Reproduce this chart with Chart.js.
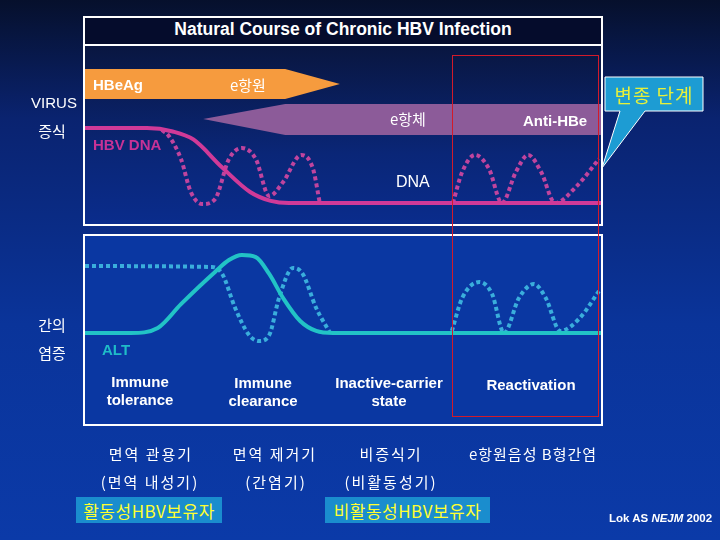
<!DOCTYPE html>
<html>
<head>
<meta charset="utf-8">
<script src="https://cdn.jsdelivr.net/npm/chart.js@4.4.1/dist/chart.umd.min.js"></script>
<style>
  body { margin: 0; }
  #slide {
    position: relative; width: 720px; height: 540px; overflow: hidden;
    background: linear-gradient(180deg, #06102c 0%, #0a2370 22%, #0a349a 60%, #0b3aa8 100%);
    font-family: "Liberation Sans", "Noto Sans CJK KR", sans-serif; color: #fff;
  }
  .t { position: absolute; white-space: nowrap; line-height: 1; }
  .c { transform: translate(-50%, -50%); text-align: center; }
  .l { transform: translateY(-50%); }
  .b { font-weight: bold; }
  .kr { font-family: "Noto Sans CJK KR", sans-serif; }
  .row { font-size: 15px; letter-spacing: 2px; }
  .panel { position: absolute; border: 2px solid #fff; }
  .panel canvas { display: block; }
  .tag { position: absolute; height: 26px; background: #1a8dce; color: #ffff30;
         font: 17px "Noto Sans CJK KR", sans-serif; letter-spacing: 0.5px;
         display: flex; align-items: center; justify-content: center; }
</style>
</head>
<body>
<div id="slide">
  <div class="panel" style="left:83px;top:16px;width:516px;height:26px;background:#050c2c;"></div>
  <div class="t c b" style="left:343px;top:30px;font-size:17.5px;">Natural Course of Chronic HBV Infection</div>

  <div class="panel" style="left:83px;top:44px;width:516px;height:178px;background:linear-gradient(180deg,#091640 0%,#0a2677 60%,#0a2c8c 100%);">
    <canvas id="top" width="516" height="178"></canvas>
  </div>
  <div class="panel" style="left:83px;top:234px;width:516px;height:188px;background:#0a37a2;">
    <canvas id="bottom" width="516" height="188"></canvas>
  </div>

  <div style="position:absolute;left:452px;top:55px;width:145px;height:360px;border:1px solid #d21a2a;"></div>

  <svg style="position:absolute;left:0;top:0;" width="720" height="540">
    <polygon points="605,77 703,77 703,111 645,111 602,168 620,111 605,111" fill="#1d9cd3" stroke="#fff" stroke-width="1"/>
  </svg>
  <div class="t c kr" style="left:654px;top:94px;font-size:19px;letter-spacing:1px;color:#e6f03a;">변종 단계</div>

  <div class="t c" style="left:54px;top:102px;font-size:15px;">VIRUS</div>
  <div class="t c kr" style="left:52px;top:130px;font-size:15px;">증식</div>
  <div class="t c kr" style="left:52px;top:324px;font-size:15px;">간의</div>
  <div class="t c kr" style="left:52px;top:352px;font-size:15px;">염증</div>

  <div class="t l b" style="left:93px;top:84px;font-size:15px;">HBeAg</div>
  <div class="t l kr" style="left:230px;top:84px;font-size:15px;">e항원</div>
  <div class="t l kr" style="left:390px;top:118px;font-size:15px;">e항체</div>
  <div class="t l b" style="left:523px;top:120px;font-size:15px;">Anti-HBe</div>
  <div class="t l b" style="left:93px;top:144px;font-size:15px;color:#c83296;">HBV DNA</div>
  <div class="t l" style="left:396px;top:182px;font-size:16px;">DNA</div>
  <div class="t l b" style="left:102px;top:349px;font-size:15px;color:#1fbcc8;">ALT</div>

  <div class="t c b" style="left:140px;top:391px;font-size:15px;line-height:18px;">Immune<br>tolerance</div>
  <div class="t c b" style="left:263px;top:392px;font-size:15px;line-height:18px;">Immune<br>clearance</div>
  <div class="t c b" style="left:389px;top:392px;font-size:15px;line-height:18px;">Inactive-carrier<br>state</div>
  <div class="t c b" style="left:531px;top:384px;font-size:15px;">Reactivation</div>

  <div class="t c kr row" style="left:151px;top:453px;">면역 관용기</div>
  <div class="t c kr row" style="left:275px;top:453px;">면역 제거기</div>
  <div class="t c kr row" style="left:391px;top:453px;">비증식기</div>
  <div class="t c kr row" style="left:533px;top:453px;letter-spacing:1px;">e항원음성 B형간염</div>
  <div class="t c kr row" style="left:150px;top:481px;">(면역 내성기)</div>
  <div class="t c kr row" style="left:276px;top:481px;">(간염기)</div>
  <div class="t c kr row" style="left:391px;top:481px;">(비활동성기)</div>

  <div class="tag" style="left:76px;top:497px;width:146px;">활동성HBV보유자</div>
  <div class="tag" style="left:325px;top:497px;width:165px;">비활동성HBV보유자</div>

  <div class="t l b" style="left:609px;top:519px;font-size:11.5px;">Lok AS <i>NEJM</i> 2002</div>
</div>

<script>
// 시간축 0~100, 수준 0~100 (패널 기준)
let dnaTime  = [0, 12, 17, 21, 26.5, 32, 36, 39.5, 100];
let dnaLevel = [53.9, 53.9, 52, 47.5, 32, 18, 13, 11.8, 11.8];

let dnaFluxTime  = [14.9, 16.1, 18.6, 20.5, 22.7, 25.2, 27.9, 30.4, 33.1, 35.7, 38.4, 41.9, 44.2, 45.5];
let dnaFluxLevel = [52.8, 50.0, 36.5, 18.0, 11.2, 14.0, 36.5, 42.7, 36.5, 15.7, 23.6, 38.8, 30.9, 11.8];

let dnaReactTime  = [71.3, 73.1, 75.6, 78.3, 80.8, 83.5, 85.9, 88.4, 91.1, 95.3, 99.6];
let dnaReactLevel = [11.8, 29.2, 38.8, 30.9, 11.8, 29.2, 38.8, 29.2, 11.8, 21.3, 36.5];

let hbeagX = [0, 38.8, 49.4, 38.8, 0];
let hbeagY = [87.1, 87.1, 78.7, 70.2, 70.2];
let antiX  = [100, 38.8, 22.9, 38.8, 100];
let antiY  = [67.4, 67.4, 59.0, 50.0, 50.0];

let altTime  = [0, 8.9, 14.1, 18.6, 25.2, 27.9, 30.4, 33.1, 35.7, 38.4, 41.7, 44.8, 48.1, 100];
let altLevel = [48.4, 48.4, 51.1, 63.8, 80.9, 87.2, 89.9, 88.8, 79.8, 67.0, 54.8, 49.5, 48.4, 48.4];

let altFluxTime  = [0, 24.6, 26.6, 29.1, 31.8, 33.7, 35.7, 37.6, 40.3, 42.2, 44.8, 47.5];
let altFluxLevel = [84.0, 83.5, 79.8, 61.7, 47.3, 44.1, 47.3, 67.0, 83.0, 79.8, 61.7, 48.4];

let altReactTime  = [71.1, 73.1, 76.4, 78.9, 81.2, 84.1, 87.0, 89.3, 92.1, 95.9, 99.6];
let altReactLevel = [49.5, 67.0, 75.5, 69.1, 48.4, 67.0, 74.5, 67.0, 49.5, 56.4, 70.7];

function pts(xs, ys) {
  return xs.map((x, i) => ({ x: x, y: ys[i] }));
}

function curve(xs, ys, color, dotted) {
  return {
    data: pts(xs, ys),
    showLine: true,
    borderColor: color,
    borderWidth: 4,
    borderDash: dotted ? [4, 3] : [],
    pointRadius: 0,
    cubicInterpolationMode: 'monotone',
    fill: false,
    order: 0
  };
}

function arrow(xs, ys, color) {
  return {
    data: pts(xs, ys),
    showLine: true,
    borderWidth: 0,
    borderColor: color,
    backgroundColor: color,
    pointRadius: 0,
    tension: 0,
    fill: 'shape',
    order: 10
  };
}

function opts() {
  return {
    responsive: false,
    animation: false,
    layout: { padding: 0 },
    plugins: { legend: { display: false }, tooltip: { enabled: false } },
    scales: {
      x: { type: 'linear', min: 0, max: 100, display: false },
      y: { type: 'linear', min: 0, max: 100, display: false }
    }
  };
}

new Chart(document.getElementById("top"), {
  type: "scatter",
  data: {
    datasets: [
      arrow(hbeagX, hbeagY, "#f69b3e"),
      arrow(antiX, antiY, "#8c5b99"),
      curve(dnaTime, dnaLevel, "#d03a98", false),
      curve(dnaFluxTime, dnaFluxLevel, "#c0449e", true),
      curve(dnaReactTime, dnaReactLevel, "#c0449e", true)
    ]
  },
  options: opts()
});

new Chart(document.getElementById("bottom"), {
  type: "scatter",
  data: {
    datasets: [
      curve(altTime, altLevel, "#22c3c6", false),
      curve(altFluxTime, altFluxLevel, "#3aaedc", true),
      curve(altReactTime, altReactLevel, "#3aaedc", true)
    ]
  },
  options: opts()
});
</script>
</body>
</html>
